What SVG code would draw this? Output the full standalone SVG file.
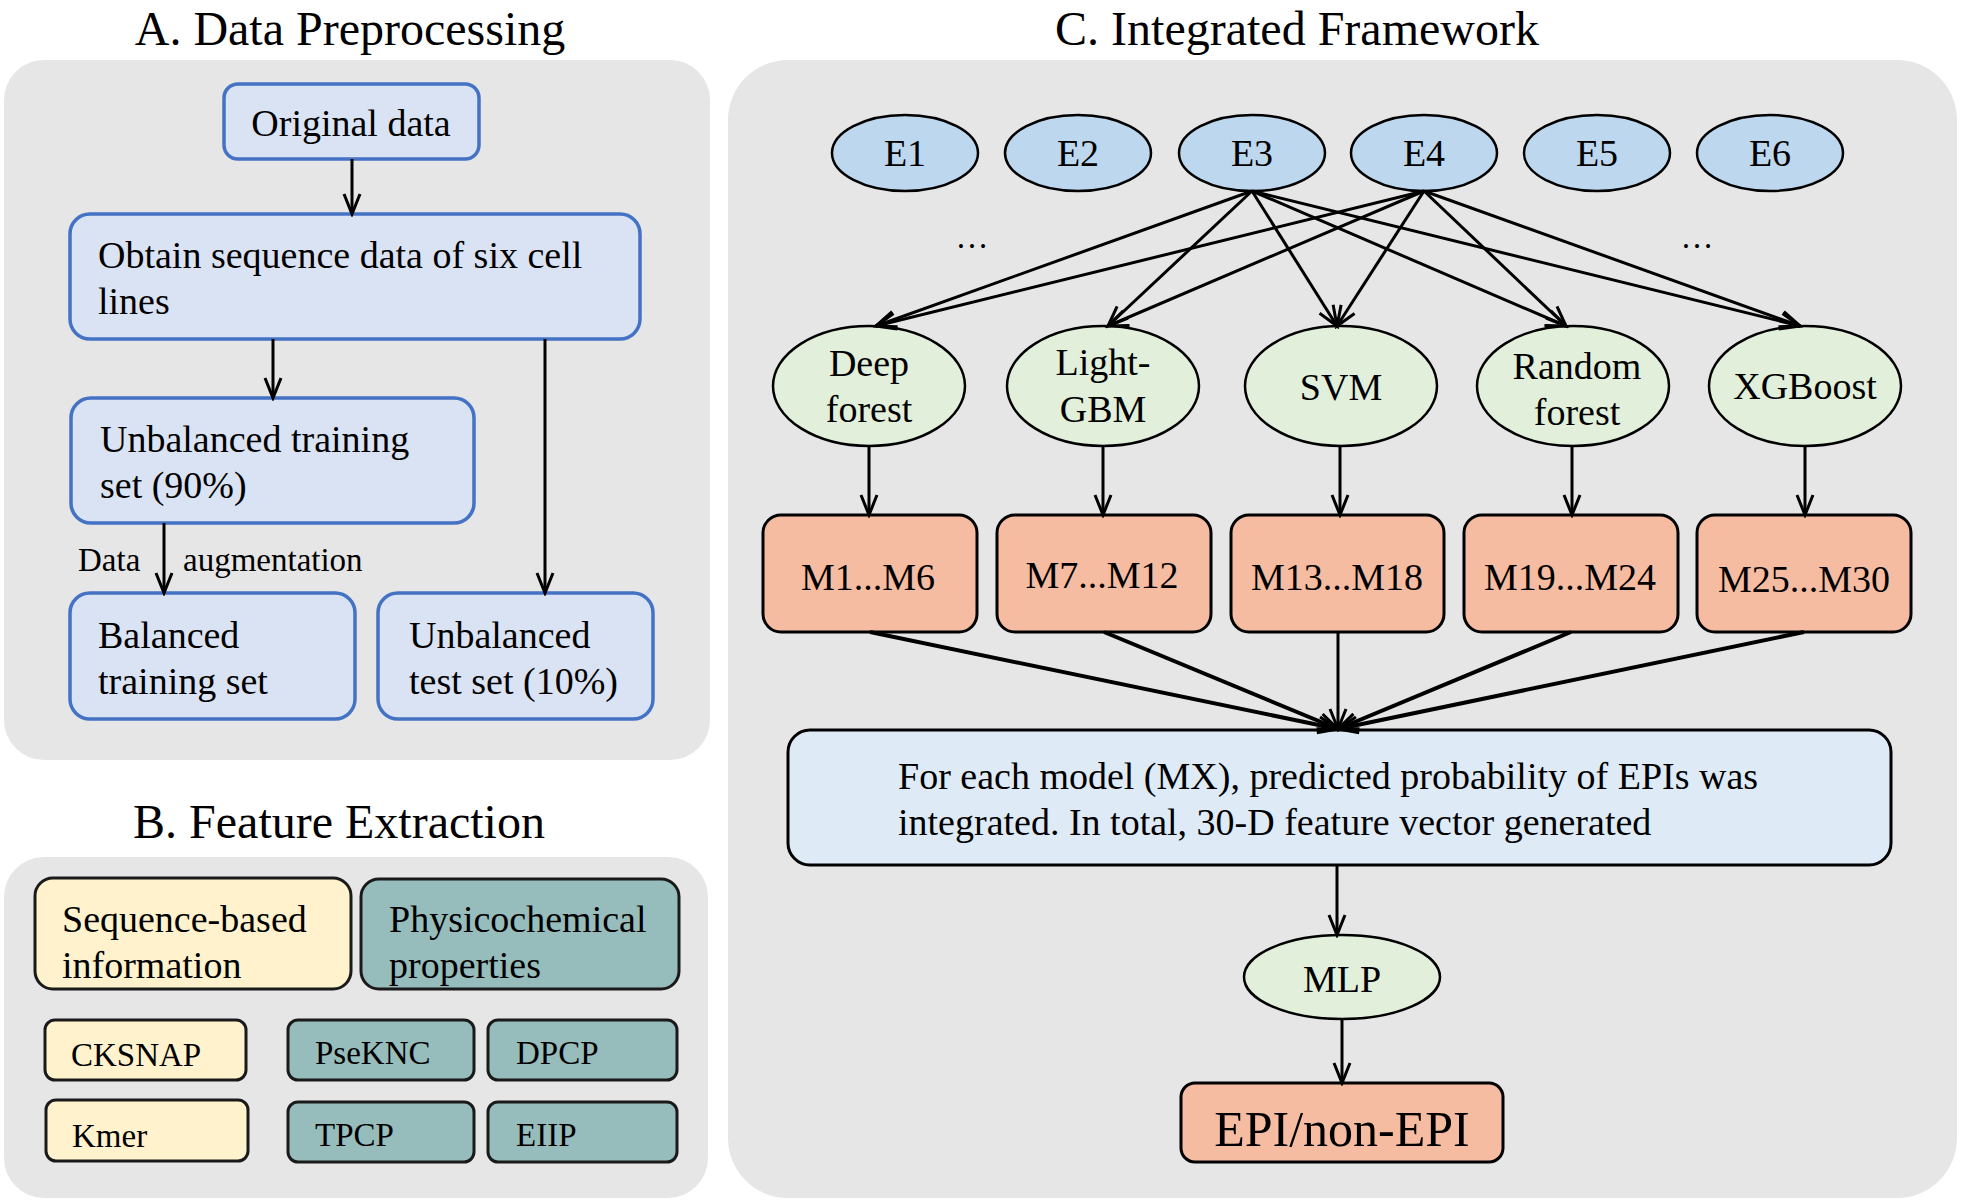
<svg xmlns="http://www.w3.org/2000/svg" width="1961" height="1204" viewBox="0 0 1961 1204">
<defs>
<style>
text{font-family:"Liberation Serif","Times New Roman",serif;fill:#000}
.title{font-size:48px}
.t{font-size:38px}
.ts{font-size:33px}
.panel{fill:#e6e6e6}
.bA{fill:#dae3f3;stroke:#4472c4;stroke-width:3.5}
.yel{fill:#fff2cc;stroke:#1a1a1a;stroke-width:3}
.teal{fill:#97bcbc;stroke:#1a1a1a;stroke-width:3}
.eb{fill:#bdd7ee;stroke:#000;stroke-width:2.5}
.eg{fill:#e2efda;stroke:#000;stroke-width:2.5}
.m{fill:#f6bca2;stroke:#000;stroke-width:3}
.big{fill:#deebf7;stroke:#000;stroke-width:3}
.c{stroke:#000;stroke-width:3;fill:none}
.cw{stroke:#000;stroke-width:4;fill:none}
.mid{text-anchor:middle}
</style>
<marker id="ah" markerUnits="userSpaceOnUse" markerWidth="26" markerHeight="20" refX="23" refY="10" orient="auto">
<path d="M3,2 L23,10 L3,18" fill="none" stroke="#000" stroke-width="3"/>
</marker>
</defs>

<!-- panels -->
<rect class="panel" x="4" y="60" width="706" height="700" rx="40"/>
<rect class="panel" x="4" y="857" width="704" height="341" rx="40"/>
<rect class="panel" x="728" y="60" width="1229" height="1138" rx="60"/>

<text class="title mid" x="350" y="45">A. Data Preprocessing</text>
<text class="title mid" x="339" y="838">B. Feature Extraction</text>
<text class="title mid" x="1297" y="45">C. Integrated Framework</text>

<!-- Panel A nodes -->
<g id="original">
<rect class="bA" x="224" y="84" width="255" height="75" rx="14"/>
<text class="t mid" x="351" y="136">Original data</text>
</g>
<g id="obtain">
<rect class="bA" x="70" y="214" width="570" height="125" rx="20"/>
<text class="t" x="98" y="268">Obtain sequence data of six cell</text>
<text class="t" x="98" y="314">lines</text>
</g>
<g id="unbal-train">
<rect class="bA" x="71" y="398" width="403" height="125" rx="20"/>
<text class="t" x="100" y="452">Unbalanced training</text>
<text class="t" x="100" y="498">set (90%)</text>
</g>
<g id="bal-train">
<rect class="bA" x="70" y="593" width="285" height="126" rx="20"/>
<text class="t" x="98" y="648">Balanced</text>
<text class="t" x="98" y="694">training set</text>
</g>
<g id="unbal-test">
<rect class="bA" x="378" y="593" width="275" height="126" rx="20"/>
<text class="t" x="409" y="648">Unbalanced</text>
<text class="t" x="409" y="694">test set (10%)</text>
</g>

<!-- Panel B nodes -->
<g id="seq-based">
<rect class="yel" x="35" y="878" width="316" height="111" rx="18"/>
<text class="t" x="62" y="932">Sequence-based</text>
<text class="t" x="62" y="978">information</text>
</g>
<g id="physchem">
<rect class="teal" x="361" y="879" width="318" height="110" rx="18"/>
<text class="t" x="389" y="932">Physicochemical</text>
<text class="t" x="389" y="978">properties</text>
</g>
<g id="cksnap">
<rect class="yel" x="45" y="1020" width="201" height="60" rx="10"/>
<text class="ts" x="71" y="1066">CKSNAP</text>
</g>
<g id="kmer">
<rect class="yel" x="46" y="1100" width="202" height="61" rx="10"/>
<text class="ts" x="72" y="1147">Kmer</text>
</g>
<g id="pseknc">
<rect class="teal" x="288" y="1020" width="186" height="60" rx="10"/>
<text class="ts" x="315" y="1064">PseKNC</text>
</g>
<g id="dpcp">
<rect class="teal" x="488" y="1020" width="189" height="60" rx="10"/>
<text class="ts" x="516" y="1064">DPCP</text>
</g>
<g id="tpcp">
<rect class="teal" x="288" y="1102" width="186" height="60" rx="10"/>
<text class="ts" x="315" y="1146">TPCP</text>
</g>
<g id="eiip">
<rect class="teal" x="488" y="1102" width="189" height="60" rx="10"/>
<text class="ts" x="516" y="1146">EIIP</text>
</g>

<!-- Panel C nodes -->
<g id="E1"><ellipse class="eb" cx="905" cy="153" rx="73" ry="38"/><text class="t mid" x="905" y="166">E1</text></g>
<g id="E2"><ellipse class="eb" cx="1078" cy="153" rx="73" ry="38"/><text class="t mid" x="1078" y="166">E2</text></g>
<g id="E3"><ellipse class="eb" cx="1252" cy="153" rx="73" ry="38"/><text class="t mid" x="1252" y="166">E3</text></g>
<g id="E4"><ellipse class="eb" cx="1424" cy="153" rx="73" ry="38"/><text class="t mid" x="1424" y="166">E4</text></g>
<g id="E5"><ellipse class="eb" cx="1597" cy="153" rx="73" ry="38"/><text class="t mid" x="1597" y="166">E5</text></g>
<g id="E6"><ellipse class="eb" cx="1770" cy="153" rx="73" ry="38"/><text class="t mid" x="1770" y="166">E6</text></g>
<text class="ts mid" x="972" y="248">…</text>
<text class="ts mid" x="1697" y="248">…</text>

<g id="deep-forest"><ellipse class="eg" cx="869" cy="386" rx="96" ry="60"/><text class="t mid" x="869" y="376">Deep</text><text class="t mid" x="869" y="422">forest</text></g>
<g id="lightgbm"><ellipse class="eg" cx="1103" cy="386" rx="96" ry="60"/><text class="t mid" x="1103" y="375">Light-</text><text class="t mid" x="1103" y="422">GBM</text></g>
<g id="svm"><ellipse class="eg" cx="1341" cy="386" rx="96" ry="60"/><text class="t mid" x="1341" y="400">SVM</text></g>
<g id="random-forest"><ellipse class="eg" cx="1573" cy="386" rx="96" ry="60"/><text class="t mid" x="1577" y="379">Random</text><text class="t mid" x="1577" y="425">forest</text></g>
<g id="xgboost"><ellipse class="eg" cx="1805" cy="386" rx="96" ry="60"/><text class="t mid" x="1805" y="399">XGBoost</text></g>

<g id="M1"><rect class="m" x="763" y="515" width="214" height="117" rx="18"/><text class="t mid" x="868" y="590">M1...M6</text></g>
<g id="M7"><rect class="m" x="997" y="515" width="214" height="117" rx="18"/><text class="t mid" x="1102" y="588">M7...M12</text></g>
<g id="M13"><rect class="m" x="1231" y="515" width="213" height="117" rx="18"/><text class="t mid" x="1337" y="590">M13...M18</text></g>
<g id="M19"><rect class="m" x="1464" y="515" width="214" height="117" rx="18"/><text class="t mid" x="1570" y="590">M19...M24</text></g>
<g id="M25"><rect class="m" x="1697" y="515" width="214" height="117" rx="18"/><text class="t mid" x="1804" y="592">M25...M30</text></g>

<g id="integrate">
<rect class="big" x="788" y="730" width="1103" height="135" rx="22"/>
<text class="t" x="898" y="789">For each model (MX), predicted probability of EPIs was</text>
<text class="t" x="898" y="835">integrated. In total, 30-D feature vector generated</text>
</g>
<g id="mlp"><ellipse class="eg" cx="1342" cy="977" rx="98" ry="42"/><text class="t mid" x="1342" y="992">MLP</text></g>
<g id="epi"><rect class="m" x="1181" y="1083" width="322" height="79" rx="14"/><text class="mid" style="font-size:50px" x="1342" y="1146">EPI/non-EPI</text></g>

<!-- connectors -->
<g id="connectors">
<line class="c" x1="352" y1="159" x2="352" y2="214" marker-end="url(#ah)"/>
<line class="c" x1="273" y1="339" x2="273" y2="398" marker-end="url(#ah)"/>
<line class="c" x1="545" y1="339" x2="545" y2="593" marker-end="url(#ah)"/>
<line class="c" x1="164" y1="523" x2="164" y2="593" marker-end="url(#ah)"/>
<text class="ts" x="78" y="571">Data</text>
<text class="ts" x="183" y="571">augmentation</text>

<line class="c" x1="1252" y1="191" x2="876" y2="326" marker-end="url(#ah)"/>
<line class="c" x1="1252" y1="191" x2="1108" y2="326" marker-end="url(#ah)"/>
<line class="c" x1="1252" y1="191" x2="1337" y2="326" marker-end="url(#ah)"/>
<line class="c" x1="1252" y1="191" x2="1566" y2="326" marker-end="url(#ah)"/>
<line class="c" x1="1252" y1="191" x2="1800" y2="326" marker-end="url(#ah)"/>
<line class="c" x1="1424" y1="191" x2="876" y2="326" marker-end="url(#ah)"/>
<line class="c" x1="1424" y1="191" x2="1108" y2="326" marker-end="url(#ah)"/>
<line class="c" x1="1424" y1="191" x2="1337" y2="326" marker-end="url(#ah)"/>
<line class="c" x1="1424" y1="191" x2="1566" y2="326" marker-end="url(#ah)"/>
<line class="c" x1="1424" y1="191" x2="1800" y2="326" marker-end="url(#ah)"/>

<line class="c" x1="869" y1="446" x2="869" y2="515" marker-end="url(#ah)"/>
<line class="c" x1="1103" y1="446" x2="1103" y2="515" marker-end="url(#ah)"/>
<line class="c" x1="1340" y1="446" x2="1340" y2="515" marker-end="url(#ah)"/>
<line class="c" x1="1572" y1="446" x2="1572" y2="515" marker-end="url(#ah)"/>
<line class="c" x1="1805" y1="446" x2="1805" y2="515" marker-end="url(#ah)"/>

<line class="cw" x1="870" y1="632" x2="1338" y2="729" marker-end="url(#ah)"/>
<line class="cw" x1="1104" y1="632" x2="1338" y2="729" marker-end="url(#ah)"/>
<line class="c" x1="1338" y1="632" x2="1338" y2="729" marker-end="url(#ah)"/>
<line class="cw" x1="1571" y1="632" x2="1338" y2="729" marker-end="url(#ah)"/>
<line class="cw" x1="1804" y1="632" x2="1338" y2="729" marker-end="url(#ah)"/>

<line class="c" x1="1337" y1="865" x2="1337" y2="935" marker-end="url(#ah)"/>
<line class="c" x1="1342" y1="1019" x2="1342" y2="1083" marker-end="url(#ah)"/>
</g>
</svg>
